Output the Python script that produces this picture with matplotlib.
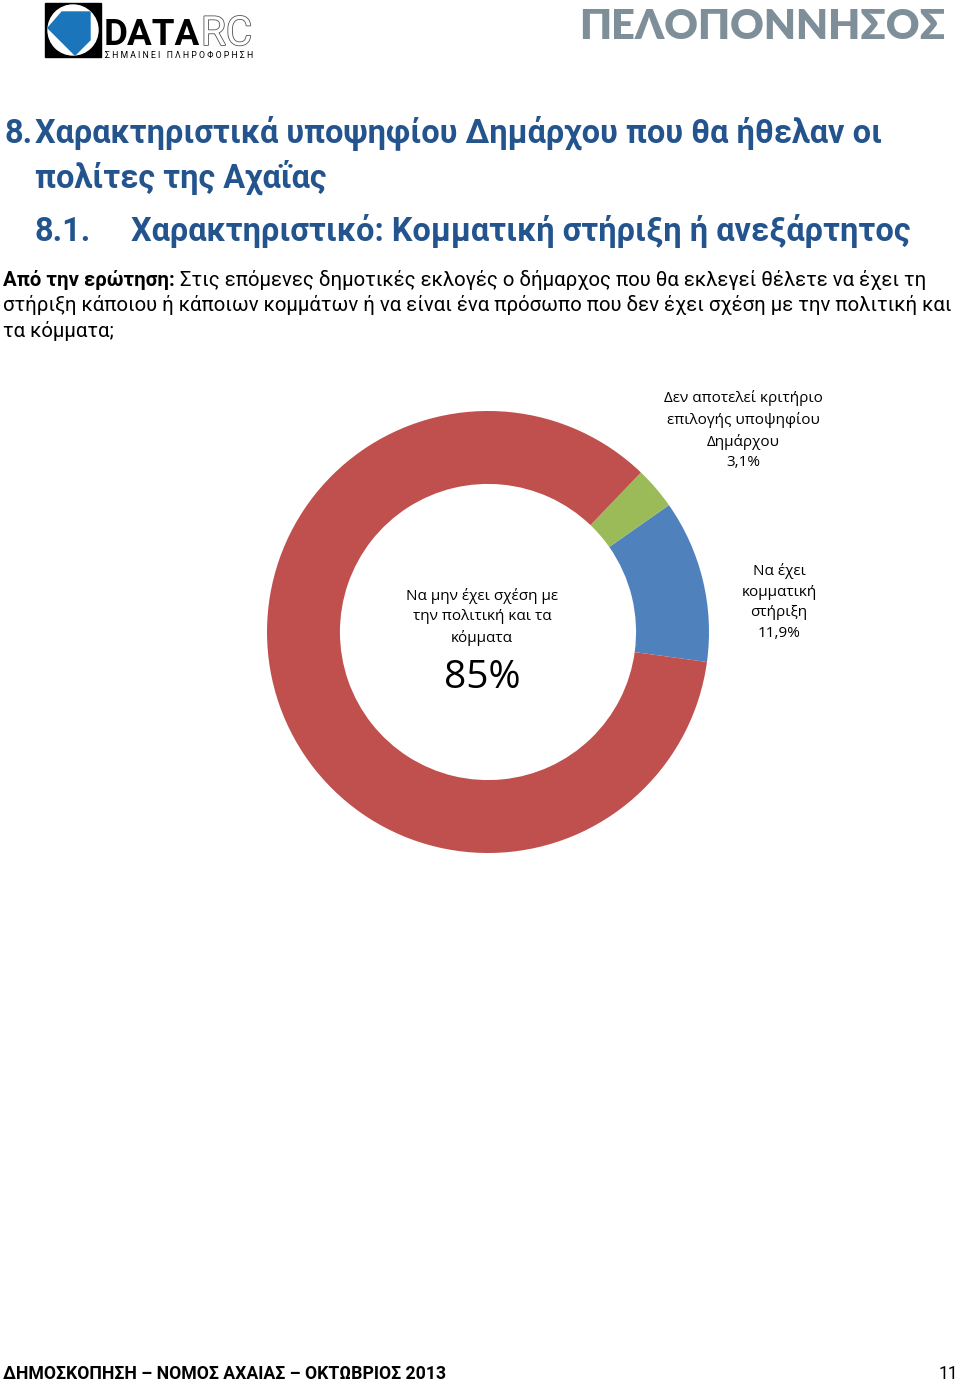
import matplotlib
matplotlib.use("Agg")
import matplotlib.pyplot as plt
import matplotlib.patheffects as pe
from matplotlib.patches import Polygon, Rectangle, Circle

# --- Data ---
categories = ["Να έχει\nκομματική\nστήριξη",
              "Δεν αποτελεί κριτήριο\nεπιλογής υποψηφίου\nΔημάρχου",
              "Να μην έχει σχέση με\nτην πολιτική και τα\nκόμματα"]
values = [11.9, 3.1, 85.0]
value_labels = ["11,9%", "3,1%", "85%"]
colors = ["#4F81BD", "#9BBB59", "#C0504D"]

title_num = "8."
title_lines = ["Χαρακτηριστικά υποψηφίου Δημάρχου που θα ήθελαν οι",
               "πολίτες της Αχαΐας"]
sub_num = "8.1."
subtitle = "Χαρακτηριστικό: Κομματική στήριξη ή ανεξάρτητος"
question_bold = "Από την ερώτηση:"
question_lines = [" Στις επόμενες δημοτικές εκλογές ο δήμαρχος που θα εκλεγεί θέλετε να έχει τη",
                  "στήριξη κάποιου ή κάποιων κομμάτων ή να είναι ένα πρόσωπο που δεν έχει σχέση με την πολιτική και",
                  "τα κόμματα;"]
footer = "ΔΗΜΟΣΚΟΠΗΣΗ – ΝΟΜΟΣ ΑΧΑΙΑΣ – ΟΚΤΩΒΡΙΟΣ 2013"
page_no = "11"

W, H = 960, 1383
TITLE_C = "#24548E"
LBL_FONT = "Open Sans"

fig = plt.figure(figsize=(W / 100, H / 100), dpi=100)
bg = fig.add_axes([0, 0, 1, 1])
bg.set_xlim(0, W)
bg.set_ylim(H, 0)
bg.axis("off")
renderer = fig.canvas.get_renderer()


def width_px(t):
    return t.get_window_extent(renderer).width


def fit(t, target):
    # scale the font so the text spans the target width in pixels
    t.set_fontsize(t.get_fontsize() * target / width_px(t))
    return t.get_fontsize()


# --- logos ---
bg.add_patch(Rectangle((45, 3), 56, 54, color="black"))
bg.add_patch(Circle((73, 30), 25, color="white"))
bg.add_patch(Polygon([(48, 28), (62, 12), (90, 12), (90, 40), (75, 55)], color="#1B75BB"))
d = bg.text(104, 45, "DATA", fontsize=30, fontweight="bold", family="Roboto", color="black", va="baseline")
fit(d, 96)
r = bg.text(201, 45, "RC", fontsize=30, family="Roboto", color="white", va="baseline",
            path_effects=[pe.withStroke(linewidth=1.2, foreground="#555555")])
fit(r, 51)
s = bg.text(105, 58, "Σ Η Μ Α Ι Ν Ε Ι   Π Λ Η Ρ Ο Φ Ο Ρ Η Σ Η", fontsize=4.5, color="black",
            va="baseline", family="Roboto")
fit(s, 147)
p = bg.text(945, 39, "ΠΕΛΟΠΟΝΝΗΣΟΣ", fontsize=27, fontweight="heavy", family="Lato",
            color="#7E8F99", ha="right", va="baseline")
fit(p, 367)

# --- titles ---
t1 = bg.text(35, 143, title_lines[0], fontsize=22, fontweight="bold", family="Roboto",
             color=TITLE_C, va="baseline")
st = bg.text(131, 241, subtitle, fontsize=22, fontweight="bold", family="Roboto",
             color=TITLE_C, va="baseline")
tsz = 22 * 0.5 * (862 / width_px(t1) + 764 / width_px(st))
t1.set_fontsize(tsz)
st.set_fontsize(tsz)
bg.text(5, 143, title_num, fontsize=tsz, fontweight="bold", family="Roboto", color=TITLE_C, va="baseline")
bg.text(35, 188, title_lines[1], fontsize=tsz, fontweight="bold", family="Roboto", color=TITLE_C, va="baseline")
bg.text(35, 241, sub_num, fontsize=tsz, fontweight="bold", family="Roboto", color=TITLE_C, va="baseline")

# --- question ---
qb = bg.text(3, 286, question_bold, fontsize=14, fontweight="bold", family="Roboto",
             color="black", va="baseline")
q1 = bg.text(3, 286, question_lines[0], fontsize=14, family="Roboto", color="black", va="baseline")
q2 = bg.text(3, 311, question_lines[1], fontsize=14, family="Roboto", color="black", va="baseline")
scale = min(955 / (width_px(qb) + width_px(q1)), 955 / width_px(q2))
qsz = 14 * scale
for t in (qb, q1, q2):
    t.set_fontsize(qsz)
q1.set_x(3 + width_px(qb))
bg.text(3, 337, question_lines[2], fontsize=qsz, family="Roboto", color="black", va="baseline")

# --- donut ---
cx, cy, R = 488, 632, 221
ax = fig.add_axes([(cx - R) / W, 1 - (cy + R) / H, 2 * R / W, 2 * R / H])
ax.pie(values, colors=colors, startangle=-7.8, counterclock=True, radius=1,
       wedgeprops=dict(width=0.33, edgecolor="none"))
ax.set_xlim(-1, 1)
ax.set_ylim(-1, 1)
ax.set_aspect("equal")
ax.axis("off")

# --- labels ---
bg.text(779, 602, categories[0] + "\n" + value_labels[0], fontsize=11, family=LBL_FONT,
        ha="center", va="center", linespacing=1.5)
bg.text(743, 430, categories[1] + "\n" + value_labels[1], fontsize=11, family=LBL_FONT,
        ha="center", va="center", linespacing=1.5)
bg.text(482, 617, categories[2], fontsize=11, family=LBL_FONT,
        ha="center", va="center", linespacing=1.5)
bg.text(482, 678, value_labels[2], fontsize=28, family=LBL_FONT, ha="center", va="center")

# --- footer ---
f = bg.text(3, 1379, footer, fontsize=13, fontweight="bold", family="Roboto", va="baseline")
fsz = fit(f, 440)
bg.text(958, 1379, page_no, fontsize=fsz, family="Roboto", ha="right", va="baseline")

fig.savefig("out.png", dpi=100)
